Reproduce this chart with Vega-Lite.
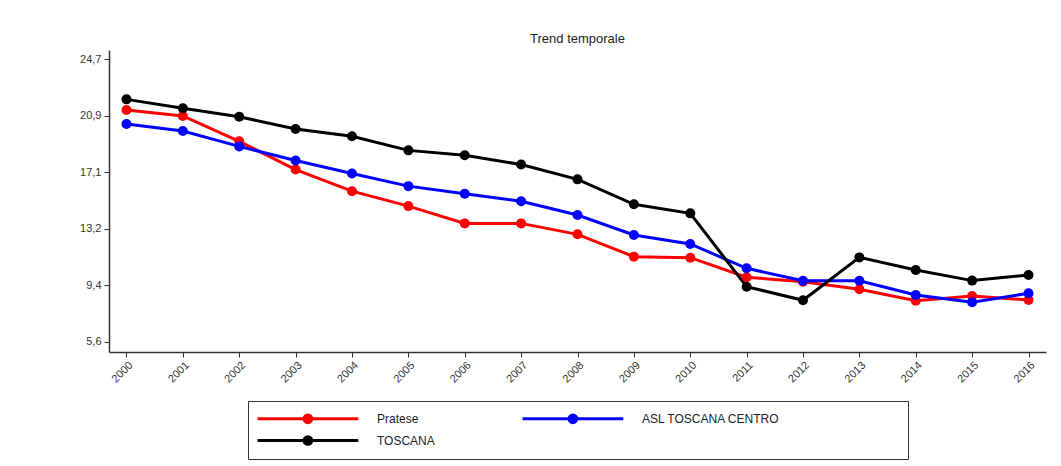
{
  "$schema": "https://vega.github.io/schema/vega-lite/v6.json",
  "width": 937,
  "height": 302,
  "autosize": {"type": "none"},
  "padding": {"left": 109, "top": 50, "right": 15, "bottom": 114},
  "background": "white",
  "title": {"text": "Trend temporale", "fontSize": 13, "font": "Liberation Sans", "fontWeight": "normal", "color": "#222222", "offset": 4, "anchor": "middle"},
  "config": {"view": {"stroke": null}},
  "data": {"values": [
    {"anno": "2000", "area": "Pratese", "valore": 21.27},
    {"anno": "2001", "area": "Pratese", "valore": 20.87},
    {"anno": "2002", "area": "Pratese", "valore": 19.15},
    {"anno": "2003", "area": "Pratese", "valore": 17.24},
    {"anno": "2004", "area": "Pratese", "valore": 15.78},
    {"anno": "2005", "area": "Pratese", "valore": 14.77},
    {"anno": "2006", "area": "Pratese", "valore": 13.6},
    {"anno": "2007", "area": "Pratese", "valore": 13.6},
    {"anno": "2008", "area": "Pratese", "valore": 12.86},
    {"anno": "2009", "area": "Pratese", "valore": 11.35},
    {"anno": "2010", "area": "Pratese", "valore": 11.28},
    {"anno": "2011", "area": "Pratese", "valore": 9.96},
    {"anno": "2012", "area": "Pratese", "valore": 9.65},
    {"anno": "2013", "area": "Pratese", "valore": 9.14},
    {"anno": "2014", "area": "Pratese", "valore": 8.37},
    {"anno": "2015", "area": "Pratese", "valore": 8.69},
    {"anno": "2016", "area": "Pratese", "valore": 8.42},
    {"anno": "2000", "area": "ASL TOSCANA CENTRO", "valore": 20.32},
    {"anno": "2001", "area": "ASL TOSCANA CENTRO", "valore": 19.85},
    {"anno": "2002", "area": "ASL TOSCANA CENTRO", "valore": 18.81},
    {"anno": "2003", "area": "ASL TOSCANA CENTRO", "valore": 17.85},
    {"anno": "2004", "area": "ASL TOSCANA CENTRO", "valore": 16.97},
    {"anno": "2005", "area": "ASL TOSCANA CENTRO", "valore": 16.12},
    {"anno": "2006", "area": "ASL TOSCANA CENTRO", "valore": 15.6},
    {"anno": "2007", "area": "ASL TOSCANA CENTRO", "valore": 15.1},
    {"anno": "2008", "area": "ASL TOSCANA CENTRO", "valore": 14.17},
    {"anno": "2009", "area": "ASL TOSCANA CENTRO", "valore": 12.82},
    {"anno": "2010", "area": "ASL TOSCANA CENTRO", "valore": 12.21},
    {"anno": "2011", "area": "ASL TOSCANA CENTRO", "valore": 10.56},
    {"anno": "2012", "area": "ASL TOSCANA CENTRO", "valore": 9.72},
    {"anno": "2013", "area": "ASL TOSCANA CENTRO", "valore": 9.72},
    {"anno": "2014", "area": "ASL TOSCANA CENTRO", "valore": 8.76},
    {"anno": "2015", "area": "ASL TOSCANA CENTRO", "valore": 8.26},
    {"anno": "2016", "area": "ASL TOSCANA CENTRO", "valore": 8.87},
    {"anno": "2000", "area": "TOSCANA", "valore": 21.99},
    {"anno": "2001", "area": "TOSCANA", "valore": 21.39},
    {"anno": "2002", "area": "TOSCANA", "valore": 20.82},
    {"anno": "2003", "area": "TOSCANA", "valore": 19.98},
    {"anno": "2004", "area": "TOSCANA", "valore": 19.49},
    {"anno": "2005", "area": "TOSCANA", "valore": 18.54},
    {"anno": "2006", "area": "TOSCANA", "valore": 18.21},
    {"anno": "2007", "area": "TOSCANA", "valore": 17.58},
    {"anno": "2008", "area": "TOSCANA", "valore": 16.58},
    {"anno": "2009", "area": "TOSCANA", "valore": 14.89},
    {"anno": "2010", "area": "TOSCANA", "valore": 14.28},
    {"anno": "2011", "area": "TOSCANA", "valore": 9.32},
    {"anno": "2012", "area": "TOSCANA", "valore": 8.4},
    {"anno": "2013", "area": "TOSCANA", "valore": 11.3},
    {"anno": "2014", "area": "TOSCANA", "valore": 10.45},
    {"anno": "2015", "area": "TOSCANA", "valore": 9.73},
    {"anno": "2016", "area": "TOSCANA", "valore": 10.11}
  ]},
  "encoding": {
    "x": {
      "field": "anno", "type": "ordinal",
      "scale": {"type": "point", "padding": 0.31},
      "axis": {"title": null, "labelAngle": -45, "labelFontSize": 11, "labelFont": "Liberation Sans", "labelColor": "#333333", "tickSize": 5, "tickColor": "#333333", "domainColor": "#333333", "domainWidth": 1.5, "labelPadding": 2, "grid": false}
    },
    "y": {
      "field": "valore", "type": "quantitative",
      "scale": {"domain": [4.9, 25.33], "nice": false, "zero": false},
      "axis": {"title": null, "values": [5.6, 9.42, 13.24, 17.06, 20.88, 24.7], "labelExpr": "replace(format(datum.value, '.1f'), '.', ',')", "labelFontSize": 11, "labelFont": "Liberation Sans", "labelColor": "#333333", "tickSize": 5, "tickColor": "#333333", "domainColor": "#333333", "domainWidth": 1.5, "labelPadding": 3, "grid": false}
    },
    "color": {
      "field": "area", "type": "nominal",
      "scale": {"domain": ["Pratese", "ASL TOSCANA CENTRO", "TOSCANA"], "range": ["#ff0000", "#0000ff", "#000000"]},
      "legend": {
        "orient": "none", "legendX": 139, "legendY": 351,
        "columns": 2, "direction": "horizontal",
        "title": " ", "titleOrient": "right", "titlePadding": 120,
        "symbolType": "M-1,0L11.6,0M4.82,0A0.48,0.48,0,1,1,5.78,0A0.48,0.48,0,1,1,4.82,0Z",
        "symbolSize": 256, "symbolStrokeWidth": 3, "symbolOpacity": 1,
        "labelOffset": 102, "labelFontSize": 12, "labelFont": "Liberation Sans", "labelColor": "#222222", "labelLimit": 300,
        "strokeColor": "#333333", "fillColor": "white", "padding": 8,
        "columnPadding": 81, "rowPadding": 1,
        "encode": {"symbols": {"update": {"fill": {"scale": "color", "field": "value"}, "stroke": {"scale": "color", "field": "value"}}}}
      }
    }
  },
  "layer": [
    {"mark": {"type": "line", "strokeWidth": 3}},
    {"mark": {"type": "point", "filled": true, "size": 100, "opacity": 1}}
  ]
}
